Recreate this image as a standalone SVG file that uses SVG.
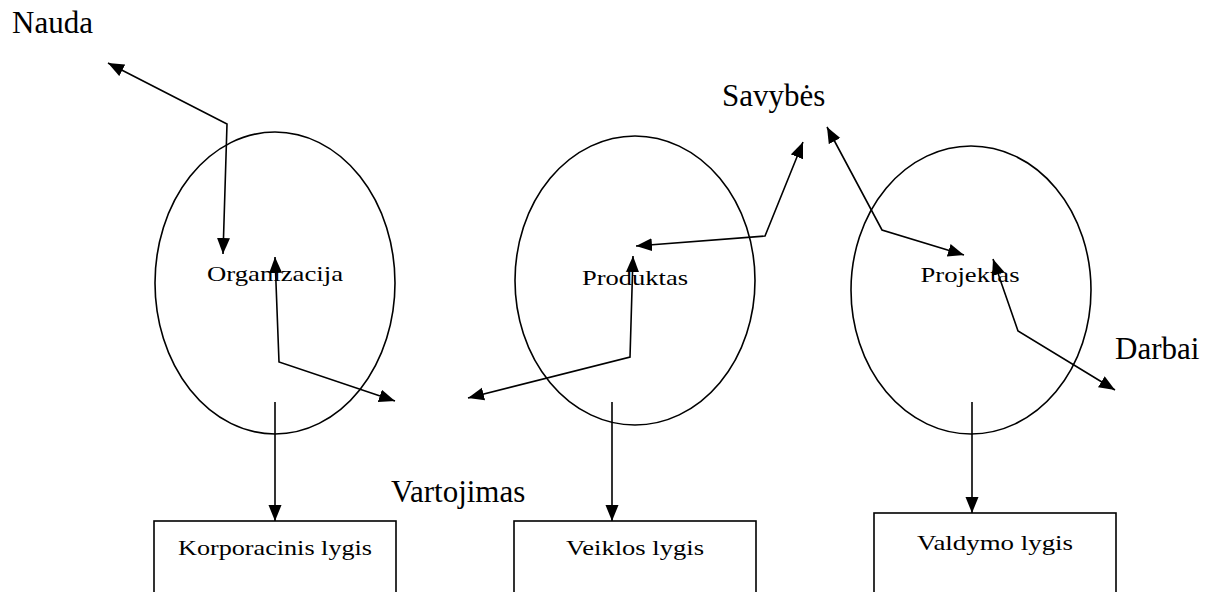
<svg xmlns="http://www.w3.org/2000/svg" width="1209" height="592" viewBox="0 0 1209 592">
  <style>
    .shape { fill: none; stroke: #000; stroke-width: 1.6; }
    .link { fill: none; stroke: #000; stroke-width: 1.6; }
    text { font-family: "Liberation Serif", "Times New Roman", serif; fill: #000; }
    .big { font-size: 31px; }
    .mid { font-size: 22px; }
  </style>
  <defs>
    <marker id="head" markerUnits="userSpaceOnUse" markerWidth="18" markerHeight="14" refX="16" refY="6.5" orient="auto-start-reverse">
      <path d="M0,0 L16,6.5 L0,13 z" fill="#000"/>
    </marker>
  </defs>

  <rect width="1209" height="592" fill="#fff"/>

  <!-- free labels -->
  <text class="big" x="12" y="33">Nauda</text>
  <text class="big" x="722" y="106">Savybės</text>
  <text class="big" x="1115" y="359">Darbai</text>
  <text class="big" x="391" y="502">Vartojimas</text>

  <!-- level circles -->
  <g id="organizacija">
    <ellipse class="shape" cx="275" cy="283" rx="120" ry="151"/>
    <text class="mid" x="275" y="281" text-anchor="middle" textLength="136" lengthAdjust="spacingAndGlyphs">Organizacija</text>
  </g>
  <g id="produktas">
    <ellipse class="shape" cx="635" cy="280.5" rx="120" ry="144.5"/>
    <text class="mid" x="635" y="285" text-anchor="middle" textLength="106" lengthAdjust="spacingAndGlyphs">Produktas</text>
  </g>
  <g id="projektas">
    <ellipse class="shape" cx="971" cy="290" rx="120" ry="144"/>
    <text class="mid" x="970" y="282" text-anchor="middle" textLength="99" lengthAdjust="spacingAndGlyphs">Projektas</text>
  </g>

  <!-- level boxes (run past the lower edge) -->
  <g id="korporacinis">
    <rect class="shape" x="154" y="521" width="242" height="90"/>
    <text class="mid" x="275" y="555" text-anchor="middle" textLength="194" lengthAdjust="spacingAndGlyphs">Korporacinis lygis</text>
  </g>
  <g id="veiklos">
    <rect class="shape" x="514" y="521" width="242" height="90"/>
    <text class="mid" x="635" y="555" text-anchor="middle" textLength="138" lengthAdjust="spacingAndGlyphs">Veiklos lygis</text>
  </g>
  <g id="valdymo">
    <rect class="shape" x="874" y="513" width="242" height="98"/>
    <text class="mid" x="995" y="550" text-anchor="middle" textLength="156" lengthAdjust="spacingAndGlyphs">Valdymo lygis</text>
  </g>

  <!-- connectors -->
  <g id="connectors">
    <path class="link" d="M108,63 L227,124 L223,254" marker-start="url(#head)" marker-end="url(#head)"/>
    <path class="link" d="M275,257 L279,362 L395,401" marker-start="url(#head)" marker-end="url(#head)"/>
    <path class="link" d="M468,398 L630,357 L633,256" marker-start="url(#head)" marker-end="url(#head)"/>
    <path class="link" d="M636,246 L765,236 L803,142" marker-start="url(#head)" marker-end="url(#head)"/>
    <path class="link" d="M827,127 L882,230 L964,255" marker-start="url(#head)" marker-end="url(#head)"/>
    <path class="link" d="M993,259 L1018,331 L1115,390" marker-start="url(#head)" marker-end="url(#head)"/>
    <path class="link" d="M275,402 L275,521" marker-end="url(#head)"/>
    <path class="link" d="M612,402 L612,521" marker-end="url(#head)"/>
    <path class="link" d="M972,402 L972,513" marker-end="url(#head)"/>
  </g>
</svg>
